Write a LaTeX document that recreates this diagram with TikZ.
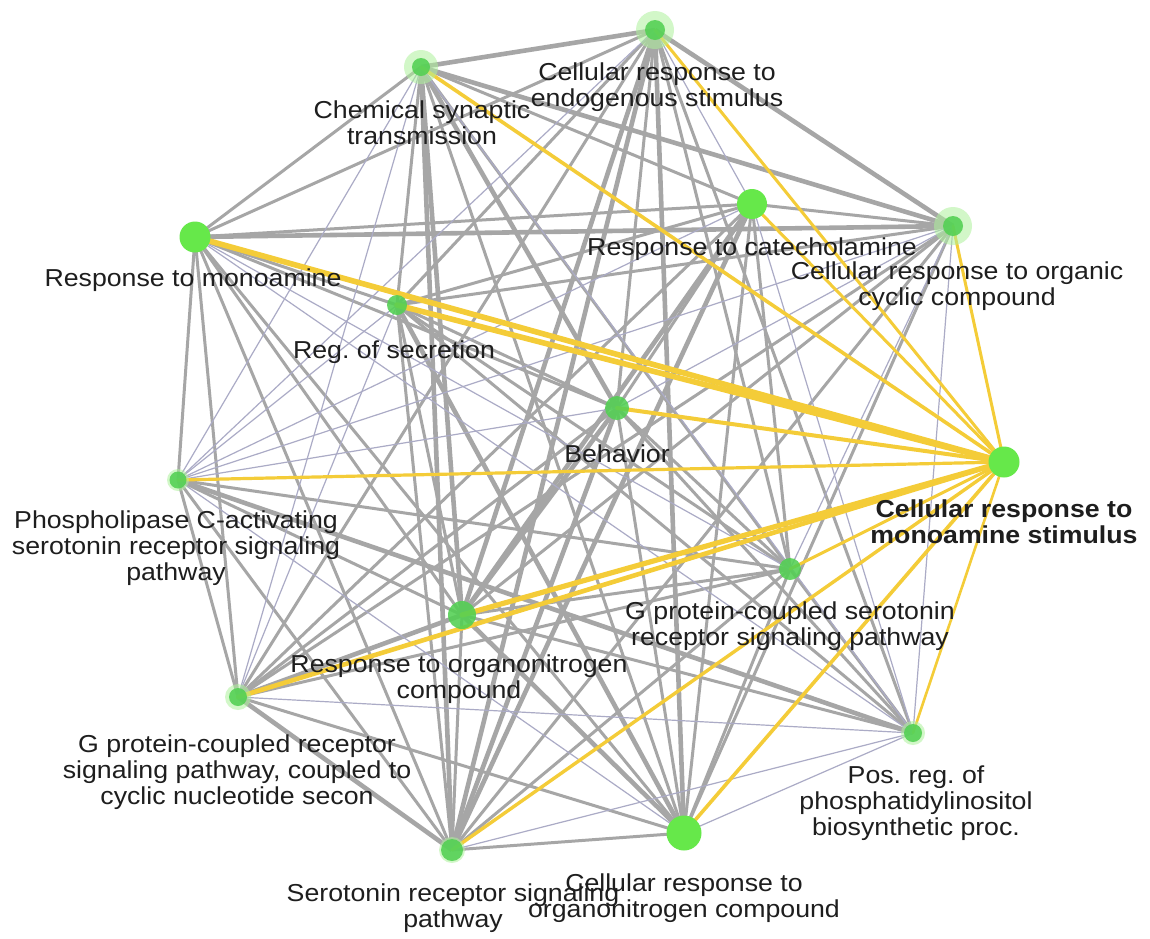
\documentclass[tikz,border=0pt]{standalone}
\usepackage{fontspec}
\setmainfont{Liberation Sans}[FakeStretch=1.09]
\frenchspacing

\pgfdeclarelayer{canvas}
\pgfdeclarelayer{edges}
\pgfsetlayers{canvas,edges,main}

\definecolor{edgegray}{HTML}{A6A6A6}
\definecolor{edgethin}{HTML}{ABABC6}
\definecolor{hubgold}{HTML}{F4CC38}
\definecolor{nodegreen}{HTML}{66E84A}
\definecolor{nodecore}{HTML}{52D052}
\definecolor{halogreen}{HTML}{AEF29C}
\definecolor{ink}{HTML}{1E1E1E}

\newcommand{\lblfont}{\fontsize{24.5}{26}\selectfont}

\tikzset{
  vtx/.style={circle, inner sep=0pt, fill=nodegreen},
  smallvtx/.style={circle, inner sep=0pt, fill=nodecore, fill opacity=0.88},
  lbl/.style={align=center, text=ink, font=\lblfont, inner sep=0pt},
  gthick/.style={draw=edgegray, line width=4.6pt},
  gmed/.style={draw=edgegray, line width=3pt},
  gthin/.style={draw=edgethin, line width=1.2pt},
  hubedge/.style={draw=hubgold, line cap=round},
}

\begin{document}
\begin{tikzpicture}[x=1pt, y=-1pt]
\useasboundingbox (0,0) rectangle (1150,938);
\begin{pgfonlayer}{canvas}
  \fill[white] (0,0) rectangle (1150,938);
\end{pgfonlayer}

% soft glow under the pale terms
\foreach \p/\r in {{(655,30)}/19, {(421,67)}/17, {(953,226)}/19, {(238,697)}/13,
                   {(178,480)}/11, {(913,733)}/12, {(452,850)}/13}
  \fill[halogreen, opacity=0.55] \p circle (\r pt);

% term nodes
\node[smallvtx, minimum size=20pt] (CRES)  at (655,30)  {};
\node[smallvtx, minimum size=18pt] (CST)   at (421,67)  {};
\node[vtx,      minimum size=30pt] (RCAT)  at (752,204) {};
\node[smallvtx, minimum size=20pt] (CROCC) at (953,226) {};
\node[vtx,      minimum size=31pt] (RMON)  at (195,237) {};
\node[smallvtx, minimum size=20pt] (RSEC)  at (397,305) {};
\node[smallvtx, minimum size=24pt] (BEH)   at (617,408) {};
\node[vtx,      minimum size=31pt] (CRMS)  at (1004,462) {};
\node[smallvtx, minimum size=17pt] (PLC)   at (178,480) {};
\node[smallvtx, minimum size=22pt] (GPCSR) at (790,569) {};
\node[smallvtx, minimum size=28pt] (RON)   at (462,615) {};
\node[smallvtx, minimum size=18pt] (GPCR)  at (238,697) {};
\node[smallvtx, minimum size=18pt] (POS)   at (913,733) {};
\node[smallvtx, minimum size=22pt] (SRSP)  at (452,850) {};
\node[vtx,      minimum size=35pt] (CRON)  at (684,833) {};

% labels
\node[lbl] (CRES-l)  at (657,87)  {Cellular response to\\endogenous stimulus};
\node[lbl] (CST-l)   at (422,123) {Chemical synaptic\\transmission};
\node[lbl] (RCAT-l)  at (752,249) {Response to catecholamine};
\node[lbl] (CROCC-l) at (957,286) {Cellular response to organic\\cyclic compound};
\node[lbl] (RMON-l)  at (193,280) {Response to monoamine};
\node[lbl] (RSEC-l)  at (394,352) {Reg. of secretion};
\node[lbl] (BEH-l)   at (617,454) {Behavior};
\node[lbl, font=\lblfont\bfseries] (CRMS-l) at (1004,522) {Cellular response to\\monoamine stimulus};
\node[lbl] (PLC-l)   at (176,548) {Phospholipase C-activating\\serotonin receptor signaling\\pathway};
\node[lbl] (GPCSR-l) at (790,626) {G protein-coupled serotonin\\receptor signaling pathway};
\node[lbl] (RON-l)   at (459,679) {Response to organonitrogen\\compound};
\node[lbl] (GPCR-l)  at (237,772) {G protein-coupled receptor\\signaling pathway, coupled to\\cyclic nucleotide secon};
\node[lbl] (POS-l)   at (916,803) {Pos. reg. of\\phosphatidylinositol\\biosynthetic proc.};
\node[lbl] (SRSP-l)  at (453,908) {Serotonin receptor signaling\\pathway};
\node[lbl] (CRON-l)  at (684,898) {Cellular response to\\organonitrogen compound};

\begin{pgfonlayer}{edges}
  % strong term-term links
  \foreach \a/\b in {CRES/CST, CRES/CROCC, CRES/RON, CRES/SRSP, CRES/CRON,
      CST/CROCC, CST/BEH, CST/RON, CST/SRSP, RCAT/RON, RCAT/SRSP, CROCC/RMON,
      RSEC/CRON, BEH/RON, BEH/SRSP, PLC/POS, RON/GPCR, RON/CRON, GPCR/SRSP}
    \draw[gthick] (\a.center) -- (\b.center);
  % medium term-term links
  \foreach \a/\b in {CRES/RMON, CRES/RSEC, CRES/BEH, CRES/GPCSR, CRES/GPCR, CRES/POS,
      CST/RCAT, CST/RMON, CST/RSEC, CST/GPCSR, CST/CRON,
      RCAT/CROCC, RCAT/RMON, RCAT/RSEC, RCAT/BEH, RCAT/GPCSR, RCAT/GPCR, RCAT/CRON,
      CROCC/RSEC, CROCC/RON, CROCC/GPCR, CROCC/SRSP, CROCC/CRON,
      RMON/RSEC, RMON/BEH, RMON/PLC, RMON/RON, RMON/GPCR, RMON/SRSP, RMON/CRON,
      RSEC/BEH, RSEC/GPCSR, RSEC/RON, RSEC/POS, RSEC/SRSP,
      BEH/GPCSR, BEH/GPCR, BEH/POS, BEH/CRON,
      PLC/GPCSR, PLC/RON, PLC/GPCR, PLC/SRSP,
      GPCSR/RON, GPCSR/GPCR, GPCSR/POS, GPCSR/SRSP, GPCSR/CRON,
      RON/POS, RON/SRSP, GPCR/CRON, SRSP/CRON}
    \draw[gmed] (\a.center) -- (\b.center);
  % weak term-term links
  \foreach \a/\b in {CRES/RCAT, CRES/PLC, CST/PLC, CST/GPCR, CST/POS, RCAT/PLC, RCAT/POS,
      CROCC/BEH, CROCC/PLC, CROCC/GPCSR, CROCC/POS, RMON/GPCSR, RMON/POS,
      RSEC/PLC, RSEC/GPCR, BEH/PLC, PLC/CRON, GPCR/POS, POS/SRSP, POS/CRON}
    \draw[gthin] (\a.center) -- (\b.center);
  % links of the highlighted term
  \foreach \a/\w in {CRES/3, CST/3.6, RCAT/3, CROCC/3, RMON/5.6, RSEC/5.6, BEH/4,
      PLC/3.2, GPCSR/3, RON/5.2, GPCR/4.6, POS/2.6, SRSP/3.4, CRON/3.6}
    \draw[hubedge, line width=\w pt] (CRMS.center) -- (\a.center);
\end{pgfonlayer}
\end{tikzpicture}
\end{document}
